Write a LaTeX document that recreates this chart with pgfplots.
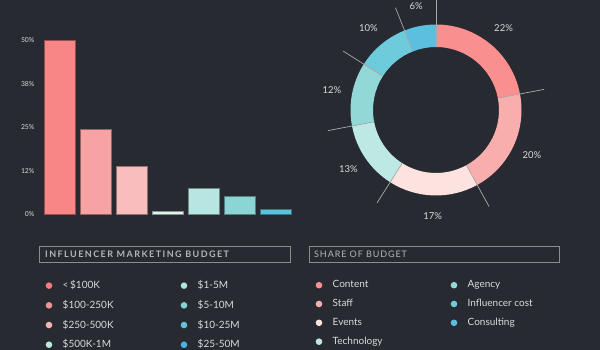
\documentclass[border=0pt]{standalone}
\usepackage{fontspec}
\setmainfont{Lato}
\newfontfamily\titlefontB{Lato}[LetterSpace=16, BoldFont={Lato Bold}]
\newfontfamily\titlefontR{Lato}[LetterSpace=10]
\usepackage{pgfplots}
\usepackage{pgfplotstable}
\pgfplotsset{compat=1.18}
\definecolor{bg}{HTML}{272A31}
\definecolor{txt}{HTML}{D9DBDE}
\definecolor{ttl}{HTML}{B4B6BA}
\definecolor{boxc}{HTML}{8A8C90}
\definecolor{lead}{HTML}{A8AAAE}
% bar colours
\definecolor{bA}{HTML}{F98686}
\definecolor{bB}{HTML}{F7A3A3}
\definecolor{bC}{HTML}{F9BDBD}
\definecolor{bD}{HTML}{DFF3EF}
\definecolor{bE}{HTML}{B7E5E1}
\definecolor{bF}{HTML}{8BD5D5}
\definecolor{bG}{HTML}{5CC3DC}
% bar legend colours
\definecolor{lA}{HTML}{F77C80}
\definecolor{lB}{HTML}{F79294}
\definecolor{lC}{HTML}{F7B3B3}
\definecolor{lD}{HTML}{BDE9DF}
\definecolor{lE}{HTML}{ADE5E0}
\definecolor{lF}{HTML}{82D3D4}
\definecolor{lG}{HTML}{60C3DA}
\definecolor{lH}{HTML}{45B4DE}
% donut colours
\definecolor{dA}{HTML}{FA8F8F}
\definecolor{dB}{HTML}{F9AEAE}
\definecolor{dC}{HTML}{FDE3DF}
\definecolor{dD}{HTML}{BDE8E3}
\definecolor{dE}{HTML}{92D8D6}
\definecolor{dF}{HTML}{6ECBDC}
\definecolor{dG}{HTML}{5BC0E0}

\pgfplotstableread{
x y
0 50
1 24.5
2 13.8
3 0.8
4 7.3
5 5.2
6 1.3
}\budget

% donut shares (Content, Staff, Events, Technology, Agency, Influencer cost, Consulting)
\def\sA{22}\def\sB{20}\def\sC{17}\def\sD{13}\def\sE{12}\def\sF{10}\def\sG{6}
\pgfmathsetmacro{\aA}{90}
\pgfmathsetmacro{\aB}{\aA-3.6*\sA}
\pgfmathsetmacro{\aC}{\aB-3.6*\sB}
\pgfmathsetmacro{\aD}{\aC-3.6*\sC}
\pgfmathsetmacro{\aE}{\aD-3.6*\sD}
\pgfmathsetmacro{\aF}{\aE-3.6*\sE}
\pgfmathsetmacro{\aG}{\aF-3.6*\sF}
\pgfmathsetmacro{\aH}{\aG-3.6*\sG}
\def\rin{63}\def\rout{85.5}\def\rlead{110}\def\rlab{106}

\newcommand{\wedgeseg}[3]{%
  \fill[#3] (axis cs:{\rin*cos(#1)},{\rin*sin(#1)}) -- (axis cs:{\rout*cos(#1)},{\rout*sin(#1)})
    arc[start angle=#1, end angle=#2, radius=\rout]
    -- (axis cs:{\rin*cos(#2)},{\rin*sin(#2)})
    arc[start angle=#2, end angle=#1, radius=\rin] -- cycle;}
\newcommand{\leader}[1]{%
  \draw[lead, line width=0.7pt] (axis cs:{\rin*cos(#1)},{\rin*sin(#1)}) -- (axis cs:{\rlead*cos(#1)},{\rlead*sin(#1)});}
\newcommand{\plab}[3]{%
  \node[txt, font=\fontsize{9.5}{10}\selectfont] at (axis cs:{\rlab*cos((#1+#2)/2)},{\rlab*sin((#1+#2)/2)}) {#3\%};}

\pgfplotsset{
  dotlegend/.style={
    legend columns=2,
    legend style={draw=none, fill=none, text=txt, font=\fontsize{10}{11}\selectfont,
      inner sep=0pt, outer sep=0pt, row sep=10pt, column sep=0pt, nodes={inner sep=0pt}},
    legend cell align=left,
    legend image code/.code={\path[draw=none, fill=none] (0pt,-3pt) rectangle (17pt,3pt); \fill[##1, draw=none] (3.3pt,-0.3pt) circle (3.3pt);},
  },
}
\newcommand{\ent}[1]{\makebox[118pt][l]{#1}}

\begin{document}
\begin{tikzpicture}
\path[use as bounding box, fill=bg] (0,0) rectangle (600pt,350pt);

% legend title boxes
\draw[boxc, line width=0.6pt] (39pt,87.5pt) rectangle (290pt,103.5pt);
\node[anchor=west, ttl, inner sep=0pt, font=\fontsize{9}{9}\selectfont\titlefontB\bfseries] at (45pt,95.5pt) {INFLUENCER MARKETING BUDGET};
\draw[boxc, line width=0.6pt] (309pt,87.5pt) rectangle (559pt,103.5pt);
\node[anchor=west, ttl, inner sep=0pt, font=\fontsize{9}{9}\selectfont\titlefontR] at (314pt,95.5pt) {SHARE OF BUDGET};

\begin{axis}[
  at={(37.9pt,136pt)}, anchor=south west,
  scale only axis, width=259.2pt, height=173.5pt,
  xmin=-0.6, xmax=6.6, ymin=0, ymax=50,
  axis line style={draw=none},
  xtick=\empty,
  ytick={0,12.5,25,37.5,50},
  yticklabels={0\%,12\%,25\%,38\%,50\%},
  major tick length=0pt,
  yticklabel style={font=\fontsize{6.8}{7}\selectfont, text=txt},
  clip=false,
  dotlegend,
  legend style={at={(0.0301,-0.3833)}, anchor=north west},
]
\addplot[ybar, bar width=31pt, fill=bA, draw=bA!60!black, line width=0.6pt, forget plot] table[x=x,y=y, restrict expr to domain={\thisrow{x}}{0:0}] {\budget};
\addplot[ybar, bar width=31pt, fill=bB, draw=bB!60!black, line width=0.6pt, forget plot] table[x=x,y=y, restrict expr to domain={\thisrow{x}}{1:1}] {\budget};
\addplot[ybar, bar width=31pt, fill=bC, draw=bC!60!black, line width=0.6pt, forget plot] table[x=x,y=y, restrict expr to domain={\thisrow{x}}{2:2}] {\budget};
\addplot[ybar, bar width=31pt, fill=bD, draw=bD!60!black, line width=0.6pt, forget plot] table[x=x,y=y, restrict expr to domain={\thisrow{x}}{3:3}] {\budget};
\addplot[ybar, bar width=31pt, fill=bE, draw=bE!60!black, line width=0.6pt, forget plot] table[x=x,y=y, restrict expr to domain={\thisrow{x}}{4:4}] {\budget};
\addplot[ybar, bar width=31pt, fill=bF, draw=bF!60!black, line width=0.6pt, forget plot] table[x=x,y=y, restrict expr to domain={\thisrow{x}}{5:5}] {\budget};
\addplot[ybar, bar width=31pt, fill=bG, draw=bG!60!black, line width=0.6pt, forget plot] table[x=x,y=y, restrict expr to domain={\thisrow{x}}{6:6}] {\budget};
\addlegendimage{lA}\addlegendentry{\ent{<\,\$100K}}
\addlegendimage{lE}\addlegendentry{\ent{\$1-5M}}
\addlegendimage{lB}\addlegendentry{\ent{\$100-250K}}
\addlegendimage{lF}\addlegendentry{\ent{\$5-10M}}
\addlegendimage{lC}\addlegendentry{\ent{\$250-500K}}
\addlegendimage{lG}\addlegendentry{\ent{\$10-25M}}
\addlegendimage{lD}\addlegendentry{\ent{\$500K-1M}}
\addlegendimage{lH}\addlegendentry{\ent{\$25-50M}}
\end{axis}

\begin{axis}[
  at={(306pt,110pt)}, anchor=south west,
  x=1pt, y=1pt,
  xmin=-130, xmax=130, ymin=-130, ymax=110,
  hide axis, clip=false,
  dotlegend,
  legend style={at={(0.0373,-0.1688)}, anchor=north west},
]
\addlegendimage{dA}\addlegendentry{\ent{Content}}
\addlegendimage{dE}\addlegendentry{\ent{Agency}}
\addlegendimage{dB}\addlegendentry{\ent{Staff}}
\addlegendimage{dF}\addlegendentry{\ent{Influencer cost}}
\addlegendimage{dC}\addlegendentry{\ent{Events}}
\addlegendimage{dG}\addlegendentry{\ent{Consulting}}
\addlegendimage{dD}\addlegendentry{\ent{Technology}}
\wedgeseg{\aA}{\aB}{dA}
\wedgeseg{\aB}{\aC}{dB}
\wedgeseg{\aC}{\aD}{dC}
\wedgeseg{\aD}{\aE}{dD}
\wedgeseg{\aE}{\aF}{dE}
\wedgeseg{\aF}{\aG}{dF}
\wedgeseg{\aG}{\aH}{dG}
\leader{\aA}\leader{\aB}\leader{\aC}\leader{\aD}\leader{\aE}\leader{\aF}\leader{\aG}
\plab{\aA}{\aB}{\sA}
\plab{\aB}{\aC}{\sB}
\plab{\aC}{\aD}{\sC}
\plab{\aD}{\aE}{\sD}
\plab{\aE}{\aF}{\sE}
\plab{\aF}{\aG}{\sF}
\plab{\aG}{\aH}{\sG}
\end{axis}
\end{tikzpicture}
\end{document}
